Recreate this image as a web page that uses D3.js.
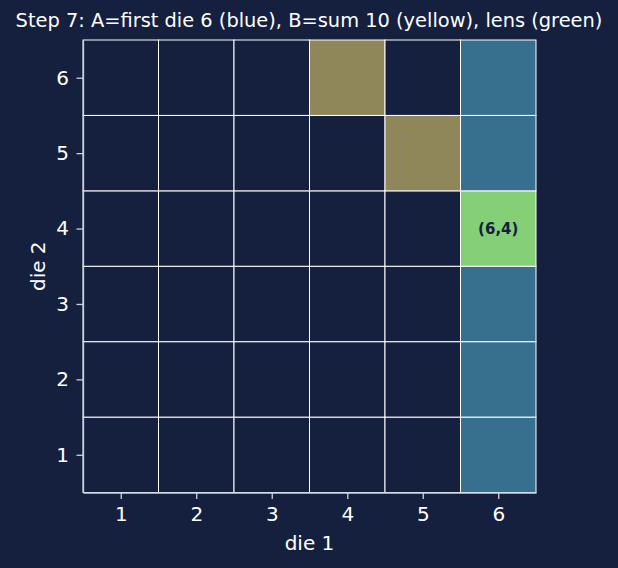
<!DOCTYPE html>
<html lang="en">
<head>
    <meta charset="UTF-8">
    <title>Step 7 lens</title>
    <script src="https://cdn.jsdelivr.net/npm/d3@7/dist/d3.min.js"></script>
    <style>
        body { margin: 0; background: #15203f; }
        svg { display: block; font-family: "DejaVu Sans", sans-serif; }
    </style>
</head>
<body>
<script>
    // data
    const dieFaces = [1, 2, 3, 4, 5, 6];
    const eventA = [[6, 1], [6, 2], [6, 3], [6, 4], [6, 5], [6, 6]]; // first die 6
    const eventB = [[4, 6], [5, 5], [6, 4]];                         // sum 10
    const titleText = 'Step 7: A=first die 6 (blue), B=sum 10 (yellow), lens (green)';

    const width = 618, height = 568;
    const margin = {left: 83, right: 82, top: 40, bottom: 75.5};

    const svg = d3.select('body').append('svg')
        .attr('width', width)
        .attr('height', height);

    svg.append('rect').attr('width', width).attr('height', height).attr('fill', '#15203f');

    const x = d3.scaleLinear().domain([0.5, 6.5]).range([margin.left, width - margin.right]);
    const y = d3.scaleLinear().domain([0.5, 6.5]).range([height - margin.bottom, margin.top]);

    // build cells
    const inA = (a, b) => eventA.some(d => d[0] === a && d[1] === b);
    const inB = (a, b) => eventB.some(d => d[0] === a && d[1] === b);
    const cells = [];
    dieFaces.forEach(a => dieFaces.forEach(b => {
        cells.push({a, b, A: inA(a, b), B: inB(a, b)});
    }));

    function cellColor (d) {
        if (d.A && d.B) return '#85cf76';
        if (d.A) return '#37708f';
        if (d.B) return '#8f8659';
        return '#15203f';
    }

    const cw = x(1.5) - x(0.5);
    const ch = y(0.5) - y(1.5);

    svg.append('g').selectAll('rect')
        .data(cells)
        .enter()
        .append('rect')
        .attr('x', d => x(d.a - 0.5))
        .attr('y', d => y(d.b + 0.5))
        .attr('width', cw)
        .attr('height', ch)
        .attr('fill', cellColor)
        .attr('stroke', '#ffffff')
        .attr('stroke-width', 1);

    svg.append('g').selectAll('text')
        .data(cells.filter(d => d.A && d.B))
        .enter()
        .append('text')
        .attr('x', d => x(d.a))
        .attr('y', d => y(d.b))
        .attr('dy', '0.35em')
        .attr('text-anchor', 'middle')
        .attr('font-size', 15)
        .attr('font-weight', 'bold')
        .attr('fill', '#15203f')
        .text(d => `(${d.a},${d.b})`);

    // axes
    const axisColor = '#c9d2e3';
    const xAxis = svg.append('g')
        .attr('transform', `translate(0,${height - margin.bottom})`)
        .call(d3.axisBottom(x).tickValues(dieFaces).tickFormat(d3.format('d'))
            .tickSizeInner(6.5).tickSizeOuter(0).tickPadding(7.5));
    const yAxis = svg.append('g')
        .attr('transform', `translate(${margin.left},0)`)
        .call(d3.axisLeft(y).tickValues(dieFaces).tickFormat(d3.format('d'))
            .tickSizeInner(6.5).tickSizeOuter(0).tickPadding(7.5));

    [xAxis, yAxis].forEach(g => {
        g.select('.domain').attr('stroke', axisColor).attr('stroke-width', 1.3);
        g.selectAll('.tick line').attr('stroke', axisColor).attr('stroke-width', 1.3);
        g.selectAll('.tick text')
            .attr('fill', '#ffffff')
            .attr('font-size', 20)
            .attr('font-family', '"DejaVu Sans", sans-serif');
    });

    // axis labels
    svg.append('text')
        .attr('x', (x(0.5) + x(6.5)) / 2)
        .attr('y', 550)
        .attr('text-anchor', 'middle')
        .attr('fill', '#ffffff')
        .attr('font-size', 20)
        .text('die 1');

    svg.append('text')
        .attr('transform', `translate(45,${(y(0.5) + y(6.5)) / 2}) rotate(-90)`)
        .attr('text-anchor', 'middle')
        .attr('fill', '#ffffff')
        .attr('font-size', 20)
        .text('die 2');

    // title
    svg.append('text')
        .attr('x', 309)
        .attr('y', 27)
        .attr('text-anchor', 'middle')
        .attr('fill', '#ffffff')
        .attr('font-size', 19.4)
        .text(titleText);
</script>
</body>
</html>
